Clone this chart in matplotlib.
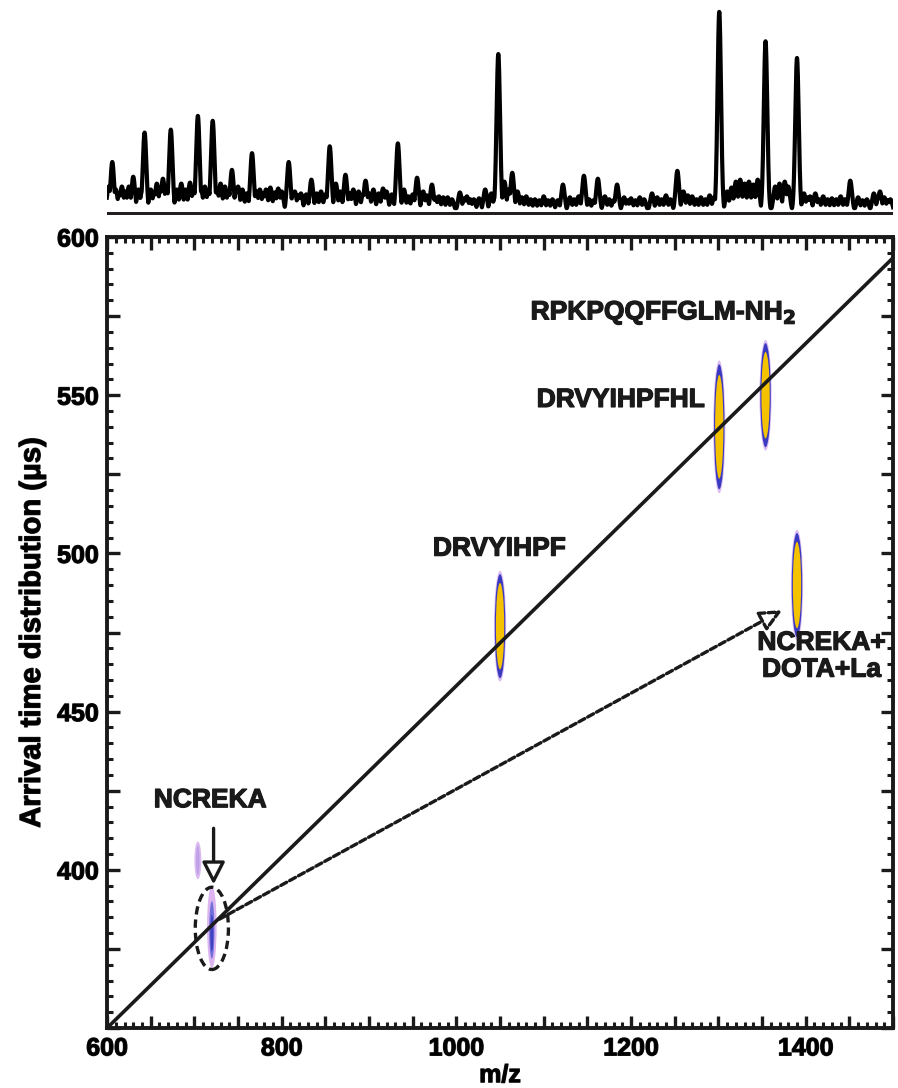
import numpy as np
import matplotlib
matplotlib.use("Agg")
import matplotlib.pyplot as plt
import matplotlib.patheffects as pe
from matplotlib.patches import Ellipse, FancyArrowPatch
from matplotlib.ticker import MultipleLocator, FuncFormatter

plt.rcParams['font.family'] = ['Liberation Sans', 'DejaVu Sans']
plt.rcParams['font.weight'] = 'bold'

# ---------------- data ----------------
# mass spectrum peaks (m/z, relative intensity)
peak_mz = [606, 643, 673, 704, 721, 743, 766, 808, 834, 855, 873, 896, 933, 955,
           972, 1004, 1033, 1048, 1064, 1122, 1146, 1162, 1184, 1224, 1253, 1301,
           1325, 1354, 1376, 1390, 1411, 1451, 1485]
peak_int = [50, 80, 83, 97, 92, 42, 59, 50, 32, 66, 37, 31, 69, 34,
            27, 19, 22, 160, 39, 27, 36, 33, 27, 18, 41, 203,
            32, 173, 30, 156, 18, 31, 20]
# small noise peaks of the spectrum
noise_mz = [598, 602, 610, 614, 617, 621, 625, 630, 636, 640, 650, 654, 657, 661, 664,
            668, 680, 685, 690, 695, 699, 708, 712, 716, 726, 730, 735, 739, 748, 750,
            755, 760, 771, 775, 779, 782, 787, 792, 796, 800, 813, 815, 819, 822, 828,
            840, 845, 850, 862, 867, 878, 882, 888, 893, 900, 905, 911, 916, 920, 926,
            940, 945, 950, 962, 966, 976, 980, 985, 990, 995, 1009, 1012, 1016, 1020,
            1026, 1040, 1044, 1055, 1060, 1070, 1075, 1080, 1085, 1090, 1095, 1100,
            1105, 1110, 1116, 1130, 1135, 1140, 1152, 1157, 1170, 1175, 1180, 1192,
            1196, 1200, 1205, 1210, 1215, 1230, 1235, 1240, 1245, 1260, 1265, 1270,
            1275, 1280, 1285, 1290, 1295, 1310, 1315, 1320, 1330, 1335, 1340, 1345,
            1365, 1370, 1380, 1398, 1402, 1405, 1415, 1420, 1425, 1430, 1435, 1440,
            1445, 1460, 1465, 1470, 1478, 1483, 1490, 1494, 1497]
noise_int = [20, 25, 22, 18, 25, 20, 25, 35, 22, 20, 22, 19, 28, 22, 33,
             24, 22, 28, 22, 29, 22, 20, 25, 21, 23, 28, 25, 20, 22, 25,
             22, 18, 20, 22, 18, 22, 24, 19, 23, 20, 17, 20, 16, 18, 17,
             18, 20, 17, 28, 20, 18, 22, 20, 17, 18, 22, 18, 23, 20, 17,
             22, 15, 17, 20, 16, 14, 15, 14, 14, 12, 13, 15, 12, 12,
             13, 18, 14, 30, 22, 20, 14, 15, 12, 12, 11, 15,
             11, 12, 11, 14, 12, 15, 12, 11, 15, 12, 11, 14,
             11, 13, 11, 14, 12, 14, 12, 16, 12, 20, 16, 15,
             12, 14, 12, 16, 14, 20, 24, 30, 28, 30, 27, 32,
             25, 28, 25, 18, 14, 15, 12, 15, 12, 13, 12, 15,
             12, 14, 11, 12, 18, 13, 14, 11, 12]

# fitted trend line of arrival time vs m/z
trend_mz = [600, 1500]
trend_atd = [350, 593.4]

# 2-D ATD spots: m/z, arrival-time centre (us), arrival-time extent (us)
spot_mz = [704, 720, 1050, 1301, 1354, 1390]
spot_atd = [403, 382, 477, 540, 550, 490]
spot_ext = [12, 26, 35, 42, 35, 35]
spot_kind = ['faint', 'low', 'high', 'high', 'high', 'high']

labels = ['NCREKA', 'DRVYIHPF', 'DRVYIHPFHL', 'RPKPQQFFGLM-NH$_2$', 'NCREKA+\nDOTA+La']
label_mz = [718, 1049, 1188, 1237, 1418]
label_atd = [422, 501.5, 548.5, 576, 467.5]

# ---------------- figure ----------------
fig = plt.figure(figsize=(8.98, 10.88), dpi=100)
stroke = [pe.withStroke(linewidth=0.9, foreground='#1a1a1a')]

# top: mass spectrum
axs = fig.add_axes([0.1192, 0.8024, 0.8753, 0.193])
x = np.arange(596, 1500.01, 0.25)
y = np.full_like(x, 3.0)
for m, h in zip(noise_mz, noise_int):
    y = np.maximum(y, h * np.exp(-0.5 * ((x - m) / 2.0) ** 2))
for m, h in zip(peak_mz, peak_int):
    y = np.maximum(y, h * np.exp(-0.5 * ((x - m) / 2.0) ** 2))
axs.plot(x, y, color='black', lw=3.0, solid_joinstyle='round')
axs.axhline(-3, color='#231f20', lw=3.6)
axs.set_xlim(600, 1500)
axs.set_ylim(-4, 210)
axs.axis('off')

# main: arrival time vs m/z
ax = fig.add_axes([0.1192, 0.0551, 0.8753, 0.7271])
ax.set_xlim(600, 1500)
ax.set_ylim(350, 600)

ax.plot(trend_mz, trend_atd, color='#1a1a1a', lw=2.6, zorder=3)

for m, t, e, k in zip(spot_mz, spot_atd, spot_ext, spot_kind):
    if k == 'faint':
        ax.add_patch(Ellipse((m, t), 8, e, color='#dcbcf0', lw=0, zorder=2))
        ax.add_patch(Ellipse((m, t), 4, e * 0.8, color='#bea0e8', lw=0, zorder=2))
    elif k == 'low':
        ax.add_patch(Ellipse((m, t), 11, e, color='#dcb5f0', lw=0, zorder=2))
        ax.add_patch(Ellipse((m, t - 1), 6, e * 0.7, color='#7070da', lw=0, zorder=2))
        ax.add_patch(Ellipse((m, t - 2), 3.5, e * 0.45, color='#4040c0', lw=0, zorder=2))
    else:
        ax.add_patch(Ellipse((m, t), 14, e, color='#dcbcf2', lw=0, zorder=2))
        ax.add_patch(Ellipse((m, t), 12, e * 0.94, color='#3a3ac0', lw=0, zorder=2))
        ax.add_patch(Ellipse((m, t), 9.5, e * 0.78, color='#f5c200', lw=0, zorder=2))

# dashed ellipse around NCREKA
ax.add_patch(Ellipse((720, 381.5), 38, 26, fill=False, ec='#1a1a1a', lw=2.4,
                     ls=(0, (2.5, 1.5)), zorder=4))

# solid arrow NCREKA label -> spot
ax.add_patch(FancyArrowPatch((722, 414), (722, 394.5),
                             arrowstyle='-|>,head_length=9,head_width=4.6',
                             mutation_scale=1.5, fc='white', ec='#1a1a1a', lw=2.4, zorder=5))
# dashed arrow NCREKA -> NCREKA+DOTA+La
ax.add_patch(FancyArrowPatch((726, 384), (1376, 482.5),
                             arrowstyle='-|>,head_length=9,head_width=4.2',
                             mutation_scale=1.5, fc='white', ec='#1a1a1a', lw=2.4,
                             ls=(0, (2.0, 1.0)), zorder=5))

for lab, m, t in zip(labels, label_mz, label_atd):
    ax.text(m, t, lab, ha='center', va='center', fontsize=19, fontweight='bold',
            color='#1a1a1a', linespacing=1.15, zorder=6, path_effects=stroke)

# axes styling
for s in ax.spines.values():
    s.set_linewidth(2.8)
    s.set_color('#1a1a1a')
ax.xaxis.set_major_locator(MultipleLocator(50))
ax.xaxis.set_minor_locator(MultipleLocator(10))
ax.yaxis.set_major_locator(MultipleLocator(25))
ax.yaxis.set_minor_locator(MultipleLocator(5))
ax.xaxis.set_major_formatter(FuncFormatter(lambda v, p: f"{v:.0f}" if abs(v % 200) < 1e-6 else ""))
ax.yaxis.set_major_formatter(FuncFormatter(lambda v, p: f"{v:.0f}" if (abs(v % 50) < 1e-6 and v >= 400) else ""))
ax.tick_params(which='both', direction='in', top=True, right=True, color='#1a1a1a')
ax.tick_params(which='major', length=9, width=2.4, labelsize=18, pad=6)
ax.tick_params(which='minor', length=4.5, width=2.2)
for t in ax.get_xticklabels() + ax.get_yticklabels():
    t.set_fontweight('bold')
    t.set_path_effects(stroke)

ax.set_xlabel('m/z', fontsize=18, fontweight='bold', labelpad=2, path_effects=stroke)
ax.set_ylabel('Arrival time distribution (μs)', fontsize=21, fontweight='bold', labelpad=8,
              path_effects=stroke)

fig.savefig('out.png', dpi=100)
